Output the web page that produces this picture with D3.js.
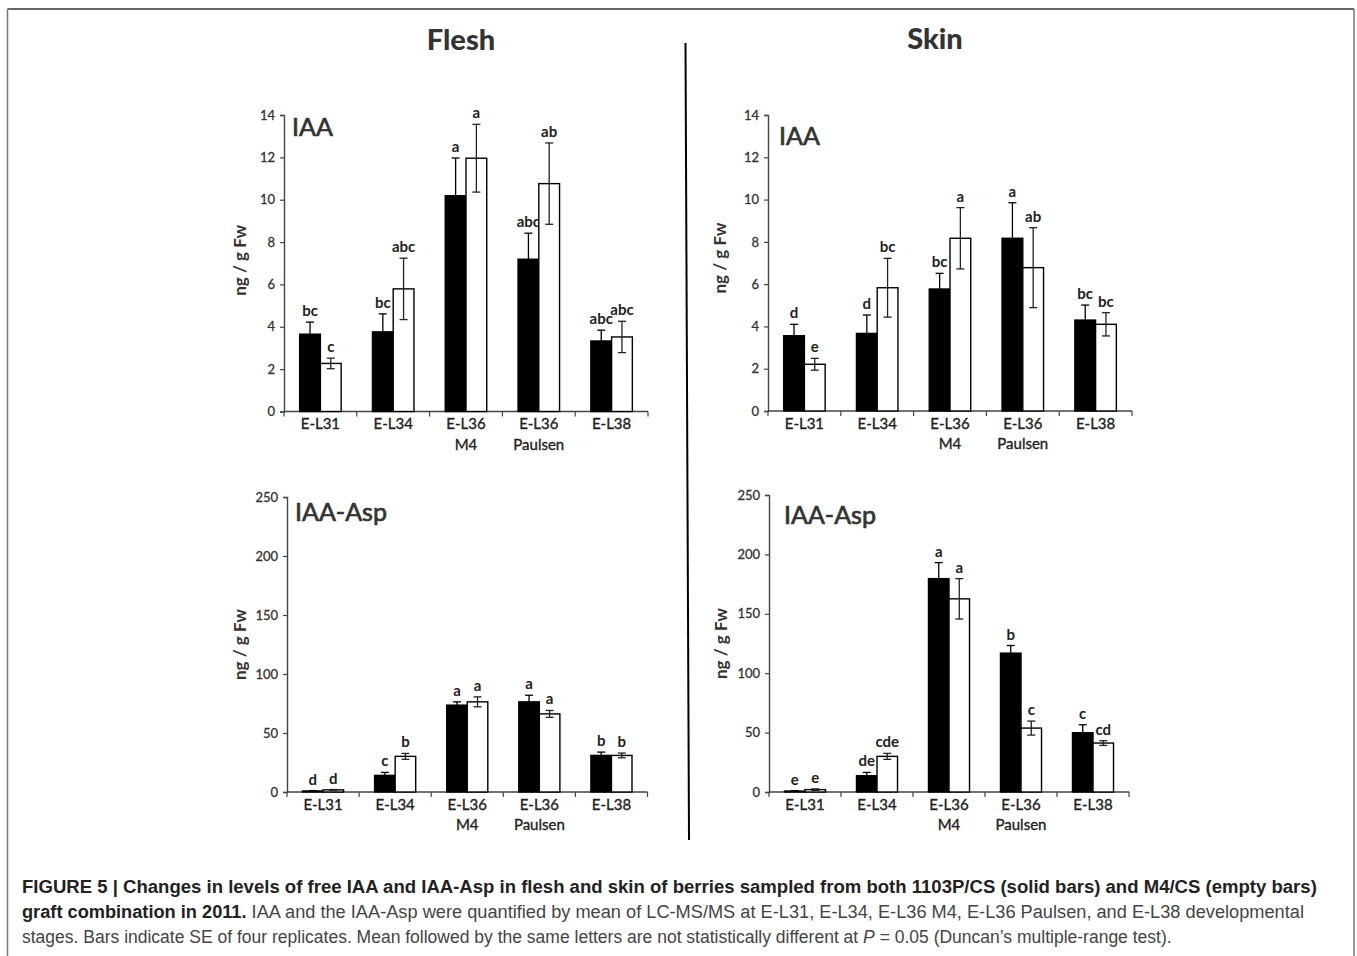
<!DOCTYPE html>
<html>
<head>
<meta charset="utf-8">
<script src="https://cdn.jsdelivr.net/npm/d3@7"></script>
<style>
  body { margin: 0; background: #fff; }
  svg { display: block; }
</style>
</head>
<body>
<div id="fig"></div>
<script>
// stages on the x axis (second element = second label line)
const categories = ['E-L31', 'E-L34', 'E-L36 M4', 'E-L36 Paulsen', 'E-L38'];
const catLines = [['E-L31'], ['E-L34'], ['E-L36', 'M4'], ['E-L36', 'Paulsen'], ['E-L38']];

// flesh, free IAA (ng / g Fw)
const fleshIAASolid = [3.65, 3.76, 10.19, 7.19, 3.33];
const fleshIAASolidSE = [0.57, 0.85, 1.78, 1.23, 0.51];
const fleshIAAEmpty = [2.27, 5.79, 11.96, 10.76, 3.52];
const fleshIAAEmptySE = [0.25, 1.45, 1.6, 1.92, 0.74];
const fleshIAASolidLet = ['bc', 'bc', 'a', 'abc', 'abc'];
const fleshIAAEmptyLet = ['c', 'abc', 'a', 'ab', 'abc'];

// skin, free IAA
const skinIAASolid = [3.56, 3.67, 5.77, 8.17, 4.30];
const skinIAASolidSE = [0.54, 0.87, 0.74, 1.68, 0.71];
const skinIAAEmpty = [2.21, 5.83, 8.17, 6.78, 4.10];
const skinIAAEmptySE = [0.28, 1.39, 1.45, 1.89, 0.55];
const skinIAASolidLet = ['d', 'd', 'bc', 'a', 'bc'];
const skinIAAEmptyLet = ['e', 'bc', 'a', 'ab', 'bc'];

// flesh, IAA-Asp
const fleshAspSolid = [0.9, 14.1, 73.6, 76.4, 31.0];
const fleshAspSolidSE = [0.3, 2.5, 2.8, 5.6, 2.8];
const fleshAspEmpty = [1.8, 30.2, 76.4, 66.2, 31.0];
const fleshAspEmptySE = [0.3, 2.5, 4.2, 2.9, 2.0];
const fleshAspSolidLet = ['d', 'c', 'a', 'a', 'b'];
const fleshAspEmptyLet = ['d', 'b', 'a', 'a', 'b'];

// skin, IAA-Asp
const skinAspSolid = [0.8, 13.7, 179.6, 116.9, 49.9];
const skinAspSolidSE = [0.4, 2.8, 13.5, 6.4, 6.7];
const skinAspEmpty = [2.0, 30.0, 162.6, 53.8, 41.2];
const skinAspEmptySE = [0.6, 2.5, 17.0, 5.9, 2.0];
const skinAspSolidLet = ['e', 'de', 'a', 'b', 'c'];
const skinAspEmptyLet = ['e', 'cde', 'a', 'c', 'cd'];

const iaaTicks = [0, 2, 4, 6, 8, 10, 12, 14];
const aspTicks = [0, 50, 100, 150, 200, 250];

const W = 1357, H = 956;
const chartFont = 'Lato, "Open Sans", sans-serif';
const capFont = '"Liberation Sans", Arial, sans-serif';

const svg = d3.select('#fig').append('svg')
  .attr('width', W).attr('height', H);

// frame: top, left, right (open at the bottom)
svg.append('line').attr('x1', 7.5).attr('x2', 1354).attr('y1', 9).attr('y2', 9)
  .attr('stroke', '#333').attr('stroke-width', 1.5);
svg.append('line').attr('x1', 7.5).attr('x2', 7.5).attr('y1', 9).attr('y2', H)
  .attr('stroke', '#777').attr('stroke-width', 1.5);
svg.append('line').attr('x1', 1354).attr('x2', 1354).attr('y1', 9).attr('y2', H)
  .attr('stroke', '#777').attr('stroke-width', 1.5);

// divider between flesh and skin
svg.append('line').attr('x1', 685.5).attr('y1', 43).attr('x2', 689).attr('y2', 840)
  .attr('stroke', '#000').attr('stroke-width', 2);

svg.append('text').attr('x', 461).attr('y', 50).attr('text-anchor', 'middle')
  .attr('font-family', chartFont).attr('font-weight', 900).attr('font-size', 29)
  .attr('fill', '#333').text('Flesh');
svg.append('text').attr('x', 935).attr('y', 49).attr('text-anchor', 'middle')
  .attr('font-family', chartFont).attr('font-weight', 900).attr('font-size', 29)
  .attr('fill', '#333').text('Skin');

function drawPanel(p) {
  const g = svg.append('g');
  const x = d3.scaleBand().domain(categories).range([p.x0, p.x1]);
  const bw = x.bandwidth();
  const xs = d3.scaleBand().domain(['solid', 'empty'])
    .range([bw * 0.215, bw * 0.785]);
  const y = d3.scaleLinear().domain([0, p.max]).range([p.y0, p.y1]);

  const yAxis = d3.axisLeft(y).tickValues(p.ticks).tickSize(4).tickPadding(5);
  const ya = g.append('g').attr('transform', `translate(${p.x0},0)`).call(yAxis);
  ya.select('.domain').attr('stroke', '#444').attr('stroke-width', 1.4);
  ya.selectAll('.tick line').attr('stroke', '#444').attr('stroke-width', 1.2);
  ya.selectAll('.tick text').attr('font-family', chartFont).attr('font-size', 13)
    .attr('fill', '#333').attr('stroke', '#333').attr('stroke-width', 0.3);

  // x axis line + boundary ticks
  g.append('line').attr('x1', p.x0).attr('x2', p.x1).attr('y1', p.y0).attr('y2', p.y0)
    .attr('stroke', '#444').attr('stroke-width', 1.4);
  const bounds = categories.map(c => x(c)).concat([p.x1]);
  g.selectAll('.bt').data(bounds).enter().append('line')
    .attr('x1', d => d).attr('x2', d => d)
    .attr('y1', p.y0).attr('y2', p.y0 + 5)
    .attr('stroke', '#444').attr('stroke-width', 1.2);

  const lbl = g.selectAll('.cat').data(categories).enter().append('text')
    .attr('text-anchor', 'middle')
    .attr('font-family', chartFont).attr('font-size', 15).attr('fill', '#222')
    .attr('stroke', '#222').attr('stroke-width', 0.35)
    .attr('x', c => x(c) + bw / 2).attr('y', p.y0 + 17.5);
  lbl.each(function(c, i) {
    d3.select(this).selectAll('tspan').data(catLines[i]).enter().append('tspan')
      .attr('x', x(c) + bw / 2).attr('dy', (d, j) => j === 0 ? 0 : 20.5).text(d => d);
  });

  const series = [
    {key: 'solid', v: p.solid, se: p.solidSE, let: p.solidLet, fill: '#000'},
    {key: 'empty', v: p.empty, se: p.emptySE, let: p.emptyLet, fill: '#fff'}
  ];
  series.forEach(s => {
    const rows = categories.map((c, i) => ({c, v: s.v[i], se: s.se[i], l: s.let[i]}));
    const cx = d => x(d.c) + xs(s.key) + xs.bandwidth() / 2;

    g.selectAll('.bar-' + s.key).data(rows).enter().append('rect')
      .attr('x', d => x(d.c) + xs(s.key))
      .attr('y', d => y(d.v))
      .attr('width', xs.bandwidth())
      .attr('height', d => p.y0 - y(d.v))
      .attr('fill', s.fill)
      .attr('stroke', '#000').attr('stroke-width', 1.4);

    const eb = g.selectAll('.err-' + s.key).data(rows).enter().append('g')
      .attr('stroke', s.key === 'solid' ? '#000' : '#222').attr('stroke-width', 1.3);
    eb.append('line').attr('x1', cx).attr('x2', cx)
      .attr('y1', d => y(d.v - d.se)).attr('y2', d => y(d.v + d.se));
    eb.append('line').attr('x1', d => cx(d) - 4).attr('x2', d => cx(d) + 4)
      .attr('y1', d => y(d.v + d.se)).attr('y2', d => y(d.v + d.se));
    eb.filter(d => s.key === 'empty').append('line')
      .attr('x1', d => cx(d) - 4).attr('x2', d => cx(d) + 4)
      .attr('y1', d => y(d.v - d.se)).attr('y2', d => y(d.v - d.se));

    g.selectAll('.let-' + s.key).data(rows).enter().append('text')
      .attr('x', cx).attr('y', d => y(d.v + d.se) - 6)
      .attr('text-anchor', 'middle')
      .attr('font-family', chartFont).attr('font-weight', 700).attr('font-size', 15)
      .attr('fill', '#222').text(d => d.l);
  });

  g.append('text').attr('x', p.labX).attr('y', p.labY)
    .attr('font-family', chartFont).attr('font-size', 25).attr('fill', '#333')
    .attr('stroke', '#333').attr('stroke-width', 0.7)
    .text(p.label);

  g.append('text')
    .attr('transform', `translate(${p.yLabX},${(p.y0 + p.y1) / 2 + p.yLabDy}) rotate(-90)`)
    .attr('text-anchor', 'middle')
    .attr('font-family', chartFont).attr('font-weight', 700).attr('font-size', 17)
    .attr('fill', '#333').text('ng / g Fw');
}

drawPanel({x0: 284, x1: 648, y0: 411.5, y1: 115, max: 14, ticks: iaaTicks,
  solid: fleshIAASolid, solidSE: fleshIAASolidSE, solidLet: fleshIAASolidLet,
  empty: fleshIAAEmpty, emptySE: fleshIAAEmptySE, emptyLet: fleshIAAEmptyLet,
  label: 'IAA', labX: 292, labY: 136, yLabX: 246, yLabDy: -3});
drawPanel({x0: 768, x1: 1132, y0: 411, y1: 115, max: 14, ticks: iaaTicks,
  solid: skinIAASolid, solidSE: skinIAASolidSE, solidLet: skinIAASolidLet,
  empty: skinIAAEmpty, emptySE: skinIAAEmptySE, emptyLet: skinIAAEmptyLet,
  label: 'IAA', labX: 779, labY: 145, yLabX: 726, yLabDy: -5});
drawPanel({x0: 287, x1: 647.5, y0: 792, y1: 497, max: 250, ticks: aspTicks,
  solid: fleshAspSolid, solidSE: fleshAspSolidSE, solidLet: fleshAspSolidLet,
  empty: fleshAspEmpty, emptySE: fleshAspEmptySE, emptyLet: fleshAspEmptyLet,
  label: 'IAA-Asp', labX: 295, labY: 521, yLabX: 246, yLabDy: 0});
drawPanel({x0: 769, x1: 1129, y0: 792, y1: 495, max: 250, ticks: aspTicks,
  solid: skinAspSolid, solidSE: skinAspSolidSE, solidLet: skinAspSolidLet,
  empty: skinAspEmpty, emptySE: skinAspEmptySE, emptyLet: skinAspEmptyLet,
  label: 'IAA-Asp', labX: 784, labY: 524, yLabX: 727, yLabDy: 0});

// caption
const cap = svg.append('g').attr('font-family', capFont).attr('fill', '#222');
function fitLine(t, target) {
  const w = t.node().getComputedTextLength();
  const fs = +t.attr('font-size');
  t.attr('font-size', (fs * target / w).toFixed(2));
}
const c1 = cap.append('text').attr('x', 22).attr('y', 893).attr('font-size', 17)
  .attr('font-weight', 700)
  .text('FIGURE 5 | Changes in levels of free IAA and IAA-Asp in flesh and skin of berries sampled from both 1103P/CS (solid bars) and M4/CS (empty bars)');
fitLine(c1, 1296);
const c2 = cap.append('text').attr('x', 22).attr('y', 918).attr('font-size', 17);
c2.append('tspan').attr('font-weight', 700).text('graft combination in 2011.');
c2.append('tspan').attr('fill', '#444').text(' IAA and the IAA-Asp were quantified by mean of LC-MS/MS at E-L31, E-L34, E-L36 M4, E-L36 Paulsen, and E-L38 developmental');
fitLine(c2, 1283);
const c3 = cap.append('text').attr('x', 22).attr('y', 943).attr('font-size', 17).attr('fill', '#444');
c3.append('tspan').text('stages. Bars indicate SE of four replicates. Mean followed by the same letters are not statistically different at ');
c3.append('tspan').attr('font-style', 'italic').text('P');
c3.append('tspan').text(' = 0.05 (Duncan\u2019s multiple-range test).');
fitLine(c3, 1150);
</script>
</body>
</html>
